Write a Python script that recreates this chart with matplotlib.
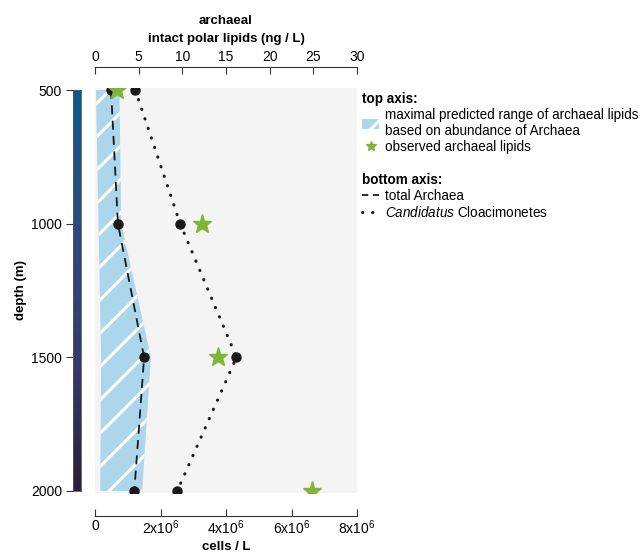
import matplotlib
matplotlib.use("Agg")
import matplotlib.pyplot as plt
import numpy as np
from matplotlib.colors import LinearSegmentedColormap
from matplotlib.patches import Patch
from matplotlib.lines import Line2D

plt.rcParams['font.family'] = ['Liberation Sans', 'DejaVu Sans']
plt.rcParams['mathtext.fontset'] = 'custom'
plt.rcParams['mathtext.rm'] = 'Liberation Sans'
plt.rcParams['mathtext.it'] = 'Liberation Sans:italic'
plt.rcParams['font.size'] = 10
plt.rcParams['hatch.color'] = 'white'
plt.rcParams['hatch.linewidth'] = 2.2

# data
depth = [500, 1000, 1500, 2000]
archaea = [0.49e6, 0.70e6, 1.50e6, 1.20e6]          # cells / L
cloacimonetes = [1.23e6, 2.60e6, 4.32e6, 2.51e6]     # cells / L
lipids_obs = [2.5, 12.3, 14.1, 24.9]                 # ng / L
lipids_min = [0.1, 0.4, 0.7, 0.6]                    # ng / L
lipids_max = [2.8, 3.0, 6.4, 5.4]                    # ng / L

cell_ticks = [0, 2e6, 4e6, 6e6, 8e6]
cell_labels = ['0', '2x10$^6$', '4x10$^6$', '6x10$^6$', '8x10$^6$']
lipid_ticks = [0, 5, 10, 15, 20, 25, 30]

W, H = 643, 556
fig = plt.figure(figsize=(W / 100, H / 100), dpi=100)

ax = fig.add_axes([95 / W, 1 - 493 / H, 262 / W, 405 / H])
axt = ax.twiny()
# lipids axis drawn below, cells axis on top
ax.set_zorder(axt.get_zorder() + 1)
ax.patch.set_visible(False)
axt.patch.set_visible(True)
axt.set_facecolor('#f4f4f4')

axt.fill_betweenx(depth, lipids_min, lipids_max, facecolor='#acd6eb',
                  edgecolor='white', hatch='/', linewidth=0)

ax.plot(archaea, depth, color='#1a1a1a', ls=(0, (5, 3.5)), lw=1.3,
        marker='o', ms=6.5, zorder=3)
ax.plot(cloacimonetes, depth, color='#1a1a1a', ls=(0, (0.1, 3.2)), lw=2.2,
        dash_capstyle='round', marker='o', ms=6.5, zorder=3)
ax.plot(lipids_obs, depth, ls='none', marker='*', ms=14, color='#80b53a',
        transform=axt.transData, zorder=4)

ax.set_xlim(0, 8e6)
axt.set_xlim(0, 30)
ax.set_ylim(2007.5, 492.5)
ax.set_yticks([])

for a in (ax, axt):
    for s in a.spines.values():
        s.set_visible(False)

ax.spines['bottom'].set_visible(True)
ax.spines['bottom'].set_position(('outward', 16.5))
ax.spines['bottom'].set_color('#333333')
ax.set_xticks(cell_ticks)
ax.set_xticklabels(cell_labels)
ax.tick_params(axis='x', direction='in', length=5, color='#333333', pad=2)
ax.set_xlabel('cells / L', fontweight='bold', fontsize=9.5, labelpad=3)

axt.spines['top'].set_visible(True)
axt.spines['top'].set_position(('outward', 15))
axt.spines['top'].set_color('#333333')
axt.set_xticks(lipid_ticks)
axt.tick_params(axis='x', direction='in', length=5, color='#333333', pad=2)
axt.set_xlabel('archaeal\nintact polar lipids (ng / L)', fontweight='bold',
               fontsize=9.5, labelpad=6, linespacing=1.7)

# depth colour bar
axd = fig.add_axes([73 / W, 1 - 491 / H, 8 / W, 401 / H])
cmap = LinearSegmentedColormap.from_list(
    'depth', ['#0e5a8c', '#2d4b80', '#363b6c', '#2a1e3e'])
axd.imshow(np.linspace(0, 1, 256).reshape(-1, 1), cmap=cmap, aspect='auto',
           extent=[0, 1, 2000, 500])
axd.set_ylim(2000, 500)
axd.set_xticks([])
axd.set_yticks(depth)
axd.tick_params(axis='y', length=5, color='#333333', pad=3)
for s in axd.spines.values():
    s.set_color('#555555')
    s.set_linewidth(0.6)
axd.set_ylabel('depth (m)', fontweight='bold', fontsize=9.5, labelpad=3)

# legends
top_handles = [Patch(facecolor='#acd6eb', edgecolor='white', hatch='/', lw=0),
               Line2D([], [], ls='none', marker='*', ms=7, color='#80b53a')]
top_labels = ['maximal predicted range of archaeal lipids\nbased on abundance of Archaea',
              'observed archaeal lipids']
leg_kw = dict(loc='upper left', frameon=False, alignment='left',
              handlelength=1.25, handletextpad=0.4, borderaxespad=0,
              labelspacing=0.12, fontsize=9.75,
              title_fontproperties={'weight': 'bold', 'size': 9.75})
fig.legend(top_handles, top_labels, bbox_to_anchor=(357 / W, 1 - 87 / H),
           title='top axis:', **leg_kw)

bot_handles = [Line2D([], [], color='#1a1a1a', ls=(0, (3.5, 2.5)), lw=1.3),
               Line2D([], [], color='#1a1a1a', ls=(0, (0.1, 3.2)), lw=2.2,
                      dash_capstyle='round')]
bot_labels = ['total Archaea', '$\\it{Candidatus}$ Cloacimonetes']
fig.legend(bot_handles, bot_labels, bbox_to_anchor=(357 / W, 1 - 168 / H),
           title='bottom axis:', **leg_kw)

fig.savefig('out.png', dpi=100)
